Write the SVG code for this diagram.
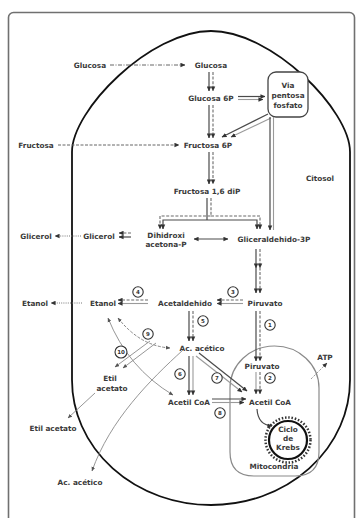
<svg xmlns="http://www.w3.org/2000/svg" width="356" height="518" viewBox="0 0 356 518">
<defs>
<style>
text{font-family:"DejaVu Sans","Liberation Sans",sans-serif;font-weight:bold;font-size:7.3px;fill:#3a3a3a;text-anchor:middle}
text.n{font-size:5.5px;fill:#333}
.s{fill:none;stroke:#4a4a4a;stroke-width:1.2}
.d{fill:none;stroke:#6a6a6a;stroke-width:1.1;stroke-dasharray:3 1.6}
.l{fill:none;stroke:#9a9a9a;stroke-width:1.1}
.t{fill:none;stroke:#8a8a8a;stroke-width:0.9}
.td{fill:none;stroke:#777;stroke-width:0.9;stroke-dasharray:3 1.5}
.dot{fill:none;stroke:#777;stroke-width:1;stroke-dasharray:1 1.2}
.nc{fill:#fff;stroke:#333;stroke-width:1.1}
</style>
<marker id="a" viewBox="0 0 6 6" refX="5.5" refY="3" markerWidth="5" markerHeight="5" markerUnits="userSpaceOnUse" orient="auto"><path d="M0,0.3L6,3L0,5.7z" fill="#333"/></marker>
<marker id="b" viewBox="0 0 6 6" refX="5.5" refY="3" markerWidth="5" markerHeight="5" markerUnits="userSpaceOnUse" orient="auto-start-reverse"><path d="M0,0.3L6,3L0,5.7z" fill="#333"/></marker>
<marker id="c" viewBox="0 0 6 6" refX="5.5" refY="3" markerWidth="4.5" markerHeight="4.5" markerUnits="userSpaceOnUse" orient="auto-start-reverse"><path d="M0,0.5L6,3L0,5.5z" fill="#555"/></marker>
</defs>

<rect x="8.5" y="12.5" width="346" height="530" rx="5" fill="none" stroke="#707070" stroke-width="1.6"/>

<g id="cell">
<path d="M72,152 C72,110 150,31 211,31 C272,31 350,110 350,152 L350,380 A139,125 0 0 1 72,380 Z" fill="none" stroke="#111" stroke-width="1.8"/>
<text x="320" y="180.6">Citosol</text>
</g>

<g id="mitocondria">
<path d="M230,452 L230,388 A44.5,42 0 0 1 319,388 L319,452 Q319,476 295,476 L254,476 Q230,476 230,452 Z" fill="none" stroke="#8a8a8a" stroke-width="1.2"/>
<text x="274" y="468.6">Mitocondria</text>
</g>

<g id="krebs">
<circle cx="288" cy="440" r="22.5" fill="none" stroke="#333" stroke-width="2.5" stroke-dasharray="1.5 1.8"/>
<circle cx="288" cy="440" r="19" fill="#fff" stroke="#111" stroke-width="2.2"/>
<text x="288" y="431.6">Ciclo</text>
<text x="288" y="440.6">de</text>
<text x="288" y="449.6">Krebs</text>
</g>

<g id="via">
<rect x="268" y="72" width="40" height="45" rx="8" fill="#fff" stroke="#444" stroke-width="1.3"/>
<text x="288" y="87.6">Via</text>
<text x="288" y="97.6">pentosa</text>
<text x="288" y="107.6">fosfato</text>
</g>

<g id="nodes">
<g id="glucosa-ext"><text x="90" y="67.6">Glucosa</text></g>
<g id="glucosa"><text x="211" y="67.6">Glucosa</text></g>
<g id="glucosa6p"><text x="211" y="100.6">Glucosa 6P</text></g>
<g id="fructosa-ext"><text x="36" y="147.6">Fructosa</text></g>
<g id="fructosa6p"><text x="208" y="147.6">Fructosa 6P</text></g>
<g id="fructosa16"><text x="207" y="193.6">Fructosa 1,6 diP</text></g>
<g id="glicerol-ext"><text x="36" y="238.6">Glicerol</text></g>
<g id="glicerol"><text x="99" y="238.6">Glicerol</text></g>
<g id="dihidroxi"><text x="166" y="237.6">Dihidroxi</text><text x="166" y="246.6">acetona-P</text></g>
<g id="gliceraldehido"><text x="274" y="241.6">Gliceraldehido-3P</text></g>
<g id="piruvato"><text x="265" y="305.6">Piruvato</text></g>
<g id="acetaldehido"><text x="185" y="305.6">Acetaldehido</text></g>
<g id="etanol"><text x="103" y="305.6">Etanol</text></g>
<g id="etanol-ext"><text x="35" y="305.6">Etanol</text></g>
<g id="acacetico"><text x="202" y="350.6">Ac. acético</text></g>
<g id="piruvato-m"><text x="262" y="368.6">Piruvato</text></g>
<g id="acetilcoa"><text x="189" y="404.6">Acetil CoA</text></g>
<g id="acetilcoa-m"><text x="270" y="404.6">Acetil CoA</text></g>
<g id="etilacetato"><text x="110" y="380.6">Etil</text><text x="112" y="390.6">acetato</text></g>
<g id="etilacetato-ext"><text x="53" y="430.6">Etil acetato</text></g>
<g id="acacetico-ext"><text x="80" y="484.6">Ac. acético</text></g>
<g id="atp"><text x="325" y="359.6">ATP</text></g>
</g>

<g id="connectors">
<!-- transport -->
<path d="M110,65 H185" fill="none" stroke="#666" stroke-width="1" stroke-dasharray="4 1.5 1 1.5" marker-end="url(#a)"/>
<path d="M58,145 H179" fill="none" stroke="#666" stroke-width="1" stroke-dasharray="3 1.5" marker-end="url(#a)"/>
<path d="M81,236 H55" class="dot" marker-end="url(#a)"/>
<path d="M82,303 H51" class="dot" marker-end="url(#a)"/>
<!-- glycolysis -->
<path d="M209,72 V91" class="s" marker-end="url(#a)"/><path d="M213,72 V91" class="d" marker-end="url(#a)"/>
<path d="M209,105 V138" class="s" marker-end="url(#a)"/><path d="M213,105 V138" class="d" marker-end="url(#a)"/>
<path d="M238,96.5 H265" class="s" marker-end="url(#a)"/><path d="M238,99.5 H263" class="l" marker-end="url(#a)"/>
<path d="M268,114 L222,137" class="s" marker-end="url(#a)"/><path d="M271,118 L231,137" class="l" marker-end="url(#a)"/>
<path d="M270,117 V230" class="s" marker-end="url(#a)"/><path d="M273.5,117 V230" class="l"/>
<path d="M209,152 V184" class="s" marker-end="url(#a)"/><path d="M213,152 V184" class="d" marker-end="url(#a)"/>
<path d="M207,198 V220 M207,220 H163 V229" class="s" marker-end="url(#a)"/>
<path d="M207,220 H257 V229" class="s" marker-end="url(#a)"/>
<path d="M211,198 V216 H160 V229" class="d" marker-end="url(#a)"/>
<path d="M211,216 H260 V229" class="d" marker-end="url(#a)"/>
<path d="M194,239 H228" class="s" marker-start="url(#b)" marker-end="url(#b)"/>
<path d="M131,233 H119" class="d" marker-end="url(#a)"/><path d="M131,237 H119" class="s" marker-end="url(#a)"/>
<path d="M256,249 V268 V293" class="s" marker-mid="url(#a)" marker-end="url(#a)"/><path d="M260,249 V268 V293" class="d" marker-mid="url(#a)" marker-end="url(#a)"/>
<!-- fermentation -->
<path d="M243,300 H217" class="d" marker-end="url(#a)"/><path d="M243,303.5 H217" class="l" marker-end="url(#a)"/>
<path d="M148,300 H118" class="d" marker-end="url(#a)"/><path d="M148,303.5 H118" class="l" marker-end="url(#a)"/>
<path d="M189,311 V341" class="s" marker-end="url(#a)"/><path d="M193,311 V341" class="d" marker-end="url(#a)"/>
<path d="M256,311 V361" class="s" marker-end="url(#a)"/><path d="M260,311 V361" class="d" marker-end="url(#a)"/>
<path d="M189,356 V395" class="s" marker-end="url(#a)"/><path d="M193,356 V395" class="l" marker-end="url(#a)"/>
<path d="M199,353 L247,391" class="s" marker-end="url(#a)"/><path d="M196,356 L242,392" class="l" marker-end="url(#a)"/>
<path d="M256,372 V394" class="l" marker-end="url(#a)"/><path d="M260,372 V394" class="d" marker-end="url(#a)"/>
<path d="M212,399 H246" class="s" marker-end="url(#a)"/><path d="M212,402.5 H244" class="l" marker-end="url(#a)"/>
<path d="M257,409 Q258,425 272,426" class="s" marker-end="url(#a)"/>
<path d="M311,379 L327,363" class="dot" marker-end="url(#a)"/>
<!-- side reactions -->
<path d="M118,318 Q140,346 170,348" class="td" marker-start="url(#c)" marker-end="url(#c)"/>
<path d="M108,318 Q128,368 173,395" class="t" marker-start="url(#c)" marker-end="url(#c)"/>
<path d="M150,341 L115,367" class="t" marker-end="url(#c)"/>
<path d="M156,343 L123,368" class="t" marker-end="url(#c)"/>
<path d="M95,393 L68,418" class="t" marker-end="url(#c)"/>
<path d="M183,350 C150,380 110,420 92,471" class="t" marker-end="url(#c)"/>
</g>

<g id="numbers">
<circle class="nc" cx="270" cy="325" r="5.2"/><text class="n" x="270" y="327">1</text>
<circle class="nc" cx="270" cy="378" r="5.2"/><text class="n" x="270" y="380">2</text>
<circle class="nc" cx="233" cy="292" r="5.2"/><text class="n" x="233" y="294">3</text>
<circle class="nc" cx="138" cy="292" r="5.2"/><text class="n" x="138" y="294">4</text>
<circle class="nc" cx="203" cy="321" r="5.2"/><text class="n" x="203" y="323">5</text>
<circle class="nc" cx="180" cy="374" r="5.2"/><text class="n" x="180" y="376">6</text>
<circle class="nc" cx="217" cy="378" r="5.2"/><text class="n" x="217" y="380">7</text>
<circle class="nc" cx="220" cy="413" r="5.2"/><text class="n" x="220" y="415">8</text>
<circle class="nc" cx="148" cy="334" r="5.2"/><text class="n" x="148" y="336">9</text>
<circle class="nc" cx="121" cy="352" r="6"/><text class="n" x="121" y="354">10</text>
</g>
</svg>
